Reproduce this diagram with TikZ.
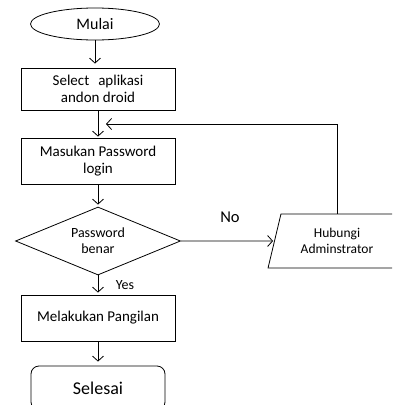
\documentclass[tikz,border=0pt]{standalone}
\usepackage{fontspec}
\setmainfont{Carlito}
\usetikzlibrary{shapes.geometric,arrows.meta}
\begin{document}
\begin{tikzpicture}[x=1pt,y=-1pt, line width=0.8pt,
  box/.style={draw, minimum width=154pt, align=center, inner sep=0pt, font=\fontsize{15}{17.5}\selectfont},
  arr/.style={-{Straight Barb[length=5pt,width=11pt]}},
  lbl/.style={inner sep=0pt}
]
\useasboundingbox (0,0) rectangle (392,405);
\clip (0,0) rectangle (392,405);
\node[draw, ellipse, minimum width=129pt, minimum height=32pt, inner sep=0pt, font=\fontsize{16}{18}\selectfont] (mulai) at (95,24) {\raisebox{-3pt}{Mulai}};
\node[box, minimum height=42pt] (select) at (98,89) {Select\hspace{0.6em}aplikasi\\andon droid};
\node[box, minimum height=46pt] (masuk) at (98,161) {Masukan Password\\login};
\node[draw, diamond, aspect=2.4, minimum width=165pt, minimum height=68pt, inner sep=0pt, align=center, font=\fontsize{14}{16}\selectfont] (pass) at (98,241) {Password\\benar};
\node[draw, trapezium, trapezium left angle=71.5, trapezium right angle=108.5, trapezium stretches=true, minimum width=138pt, minimum height=54pt, inner sep=0pt, align=center, font=\fontsize{13.5}{15.5}\selectfont] (hub) at (337,241) {Hubungi\\Adminstrator};
\node[box, minimum height=46pt] (call) at (98,318) {Melakukan Pangilan};
\node[draw, rounded corners=8pt, minimum width=134pt, minimum height=44pt, inner sep=0pt, font=\fontsize{18}{21}\selectfont] (end) at (98,388) {Selesai};
\node[lbl, font=\fontsize{16.5}{18}\selectfont] (no) at (230,217) {No};
\node[lbl, font=\fontsize{14}{16}\selectfont] (yes) at (125,285) {Yes};
\coordinate (fb) at (106,124);
\draw[arr, shorten >=4pt] (mulai) -- (mulai.south |- select.north);
\draw[arr, shorten >=1pt] (select) -- (masuk);
\draw[arr, shorten >=2pt] (masuk) -- (pass);
\draw[arr, shorten >=2pt] (pass) -- (call);
\draw[arr, shorten >=4pt] (call) -- (end);
\draw[arr, shorten >=1pt] (pass.east) -- (hub.west);
\draw[arr] (hub.north) |- (fb);
\end{tikzpicture}
\end{document}
